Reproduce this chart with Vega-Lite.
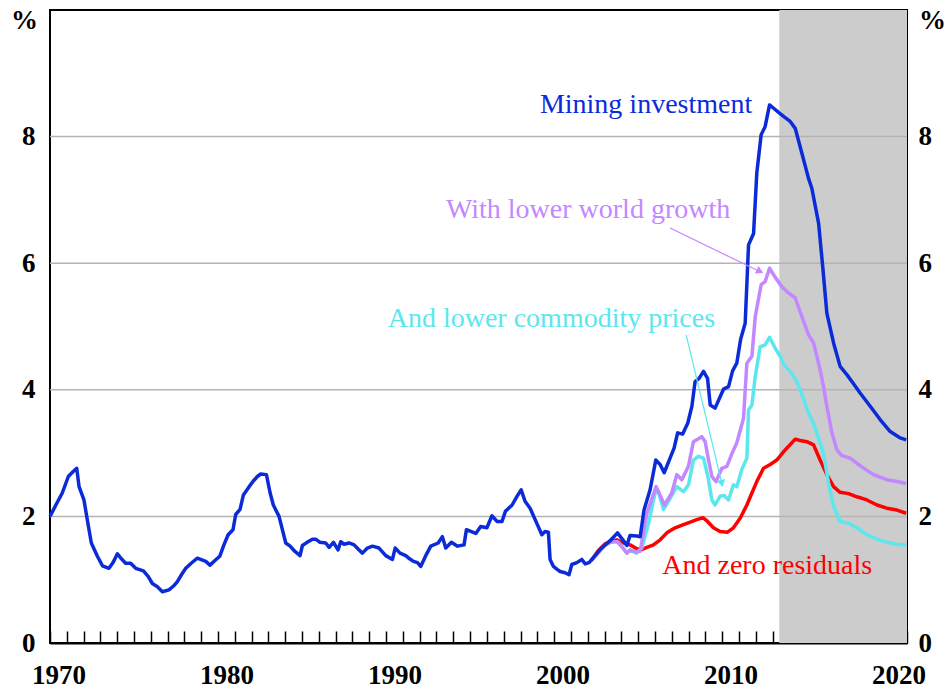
{
  "$schema": "https://vega.github.io/schema/vega-lite/v6.json",
  "width": 857,
  "height": 633,
  "autosize": {"type": "none"},
  "padding": {"left": 50, "top": 10, "right": 42, "bottom": 46},
  "background": "white",
  "config": {
    "view": {"stroke": "black", "strokeWidth": 2},
    "font": "'Liberation Serif', 'DejaVu Serif', serif",
    "axis": {"labelFont": "'Liberation Serif', 'DejaVu Serif', serif", "titleFont": "'Liberation Serif', 'DejaVu Serif', serif", "labelColor": "black", "titleColor": "black", "labelFontSize": 27, "titleFontSize": 27, "labelFontWeight": "bold", "titleFontWeight": "bold"},
    "axisX": {"tickCount": 51,
      "format": "d", "labelExpr": "datum.value % 10 === 0 && datum.value < 2021 ? datum.label : ''",
      "labelOffset": 8.4, "tickSize": -12, "tickColor": "black", "tickWidth": 1.5,
      "domain": true, "domainColor": "black", "domainWidth": 2,
      "labelPadding": 31, "labelFlush": false, "labelOverlap": false, "labelBound": false,
      "grid": false, "title": null}
  },
  "datasets": {
    "blue": [
      {"year":1970.0,"v":2.0},{"year":1970.35,"v":2.18},{"year":1970.73,"v":2.37},{"year":1971.09,"v":2.63},{"year":1971.35,"v":2.7},{"year":1971.59,"v":2.76},{"year":1971.73,"v":2.47},{"year":1972.02,"v":2.26},{"year":1972.25,"v":1.9},{"year":1972.46,"v":1.58},{"year":1972.65,"v":1.47},{"year":1972.82,"v":1.37},{"year":1973.12,"v":1.22},{"year":1973.51,"v":1.18},{"year":1973.75,"v":1.27},{"year":1974.01,"v":1.41},{"year":1974.25,"v":1.33},{"year":1974.5,"v":1.26},{"year":1974.8,"v":1.26},{"year":1975.1,"v":1.18},{"year":1975.56,"v":1.14},{"year":1975.85,"v":1.05},{"year":1976.09,"v":0.94},{"year":1976.39,"v":0.89},{"year":1976.69,"v":0.81},{"year":1977.08,"v":0.84},{"year":1977.35,"v":0.9},{"year":1977.58,"v":0.97},{"year":1977.85,"v":1.09},{"year":1978.08,"v":1.18},{"year":1978.4,"v":1.26},{"year":1978.77,"v":1.34},{"year":1979.27,"v":1.29},{"year":1979.52,"v":1.23},{"year":1979.8,"v":1.3},{"year":1980.1,"v":1.37},{"year":1980.35,"v":1.55},{"year":1980.6,"v":1.71},{"year":1980.89,"v":1.79},{"year":1981.05,"v":2.03},{"year":1981.31,"v":2.11},{"year":1981.51,"v":2.34},{"year":1981.85,"v":2.47},{"year":1982.1,"v":2.56},{"year":1982.34,"v":2.63},{"year":1982.54,"v":2.67},{"year":1982.88,"v":2.66},{"year":1983.1,"v":2.37},{"year":1983.29,"v":2.18},{"year":1983.63,"v":2.0},{"year":1984.03,"v":1.58},{"year":1984.29,"v":1.53},{"year":1984.56,"v":1.45},{"year":1984.88,"v":1.38},{"year":1985.02,"v":1.54},{"year":1985.3,"v":1.59},{"year":1985.62,"v":1.64},{"year":1985.81,"v":1.64},{"year":1986.07,"v":1.59},{"year":1986.41,"v":1.58},{"year":1986.61,"v":1.51},{"year":1986.87,"v":1.59},{"year":1987.14,"v":1.47},{"year":1987.3,"v":1.6},{"year":1987.5,"v":1.56},{"year":1987.8,"v":1.58},{"year":1988.1,"v":1.55},{"year":1988.35,"v":1.48},{"year":1988.59,"v":1.42},{"year":1988.89,"v":1.5},{"year":1989.19,"v":1.53},{"year":1989.58,"v":1.5},{"year":1989.98,"v":1.38},{"year":1990.38,"v":1.32},{"year":1990.54,"v":1.5},{"year":1990.83,"v":1.42},{"year":1991.17,"v":1.38},{"year":1991.4,"v":1.33},{"year":1991.63,"v":1.29},{"year":1991.87,"v":1.27},{"year":1992.06,"v":1.21},{"year":1992.36,"v":1.38},{"year":1992.66,"v":1.53},{"year":1993.1,"v":1.58},{"year":1993.35,"v":1.68},{"year":1993.55,"v":1.5},{"year":1993.89,"v":1.59},{"year":1994.25,"v":1.53},{"year":1994.64,"v":1.55},{"year":1994.78,"v":1.79},{"year":1995.34,"v":1.73},{"year":1995.63,"v":1.84},{"year":1996.0,"v":1.82},{"year":1996.3,"v":2.01},{"year":1996.6,"v":1.92},{"year":1996.9,"v":1.92},{"year":1997.1,"v":2.08},{"year":1997.5,"v":2.18},{"year":1997.8,"v":2.32},{"year":1998.04,"v":2.42},{"year":1998.27,"v":2.24},{"year":1998.57,"v":2.13},{"year":1998.97,"v":1.89},{"year":1999.27,"v":1.71},{"year":1999.46,"v":1.76},{"year":1999.66,"v":1.75},{"year":1999.76,"v":1.32},{"year":1999.96,"v":1.21},{"year":2000.2,"v":1.16},{"year":2000.36,"v":1.13},{"year":2000.65,"v":1.11},{"year":2000.89,"v":1.08},{"year":2001.05,"v":1.24},{"year":2001.35,"v":1.27},{"year":2001.65,"v":1.32},{"year":2001.85,"v":1.25},{"year":2002.08,"v":1.27},{"year":2002.44,"v":1.38},{"year":2002.74,"v":1.48},{"year":2003.04,"v":1.55},{"year":2003.35,"v":1.62},{"year":2003.77,"v":1.74},{"year":2004.09,"v":1.63},{"year":2004.33,"v":1.54},{"year":2004.52,"v":1.7},{"year":2004.92,"v":1.69},{"year":2005.12,"v":1.68},{"year":2005.35,"v":2.1},{"year":2005.71,"v":2.42},{"year":2006.05,"v":2.89},{"year":2006.31,"v":2.82},{"year":2006.55,"v":2.69},{"year":2006.9,"v":2.92},{"year":2007.14,"v":3.08},{"year":2007.35,"v":3.32},{"year":2007.65,"v":3.3},{"year":2007.95,"v":3.47},{"year":2008.2,"v":3.74},{"year":2008.39,"v":4.13},{"year":2008.63,"v":4.18},{"year":2008.89,"v":4.29},{"year":2009.13,"v":4.18},{"year":2009.29,"v":3.76},{"year":2009.58,"v":3.71},{"year":2009.88,"v":3.89},{"year":2010.08,"v":4.01},{"year":2010.38,"v":4.05},{"year":2010.62,"v":4.3},{"year":2010.87,"v":4.42},{"year":2011.1,"v":4.8},{"year":2011.37,"v":5.05},{"year":2011.57,"v":6.29},{"year":2011.87,"v":6.47},{"year":2012.06,"v":7.42},{"year":2012.32,"v":8.03},{"year":2012.56,"v":8.16},{"year":2012.82,"v":8.5},{"year":2013.1,"v":8.44},{"year":2013.41,"v":8.37},{"year":2013.75,"v":8.3},{"year":2014.05,"v":8.24},{"year":2014.35,"v":8.13},{"year":2014.74,"v":7.74},{"year":2015.14,"v":7.34},{"year":2015.34,"v":7.18},{"year":2015.74,"v":6.63},{"year":2016.0,"v":5.9},{"year":2016.23,"v":5.21},{"year":2016.63,"v":4.74},{"year":2017.02,"v":4.37},{"year":2017.42,"v":4.24},{"year":2017.72,"v":4.13},{"year":2018.21,"v":3.95},{"year":2018.81,"v":3.74},{"year":2019.4,"v":3.53},{"year":2020.0,"v":3.34},{"year":2020.6,"v":3.24},{"year":2020.95,"v":3.21}
    ],
    "purple": [
      {"year":2002.2,"v":1.3},{"year":2002.74,"v":1.46},{"year":2003.04,"v":1.55},{"year":2003.43,"v":1.6},{"year":2003.77,"v":1.6},{"year":2004.1,"v":1.5},{"year":2004.33,"v":1.42},{"year":2004.52,"v":1.47},{"year":2004.9,"v":1.44},{"year":2005.12,"v":1.45},{"year":2005.52,"v":2.05},{"year":2006.07,"v":2.47},{"year":2006.57,"v":2.18},{"year":2007.0,"v":2.37},{"year":2007.3,"v":2.66},{"year":2007.6,"v":2.58},{"year":2007.99,"v":2.79},{"year":2008.29,"v":3.18},{"year":2008.79,"v":3.26},{"year":2008.99,"v":3.18},{"year":2009.19,"v":2.89},{"year":2009.39,"v":2.63},{"year":2009.64,"v":2.55},{"year":2009.98,"v":2.76},{"year":2010.28,"v":2.79},{"year":2010.64,"v":3.03},{"year":2010.87,"v":3.16},{"year":2011.27,"v":3.55},{"year":2011.47,"v":4.42},{"year":2011.77,"v":4.53},{"year":2011.97,"v":5.16},{"year":2012.32,"v":5.66},{"year":2012.56,"v":5.71},{"year":2012.82,"v":5.92},{"year":2013.15,"v":5.78},{"year":2013.55,"v":5.63},{"year":2013.95,"v":5.53},{"year":2014.35,"v":5.45},{"year":2014.74,"v":5.16},{"year":2015.14,"v":4.87},{"year":2015.44,"v":4.74},{"year":2015.83,"v":4.32},{"year":2016.03,"v":4.05},{"year":2016.23,"v":3.74},{"year":2016.53,"v":3.32},{"year":2016.83,"v":3.05},{"year":2017.12,"v":2.96},{"year":2017.62,"v":2.92},{"year":2018.21,"v":2.8},{"year":2019.0,"v":2.66},{"year":2019.8,"v":2.58},{"year":2020.4,"v":2.55},{"year":2020.95,"v":2.52}
    ],
    "cyan": [
      {"year":2002.2,"v":1.3},{"year":2002.74,"v":1.46},{"year":2003.04,"v":1.55},{"year":2003.43,"v":1.6},{"year":2003.77,"v":1.6},{"year":2004.1,"v":1.5},{"year":2004.33,"v":1.42},{"year":2004.52,"v":1.47},{"year":2004.9,"v":1.42},{"year":2005.22,"v":1.5},{"year":2005.62,"v":1.89},{"year":2006.01,"v":2.37},{"year":2006.21,"v":2.39},{"year":2006.51,"v":2.11},{"year":2006.81,"v":2.24},{"year":2007.3,"v":2.47},{"year":2007.7,"v":2.39},{"year":2008.0,"v":2.5},{"year":2008.29,"v":2.89},{"year":2008.59,"v":2.95},{"year":2008.89,"v":2.92},{"year":2009.15,"v":2.63},{"year":2009.39,"v":2.26},{"year":2009.58,"v":2.18},{"year":2009.88,"v":2.32},{"year":2010.12,"v":2.33},{"year":2010.38,"v":2.26},{"year":2010.67,"v":2.5},{"year":2010.87,"v":2.47},{"year":2011.17,"v":2.74},{"year":2011.47,"v":2.92},{"year":2011.57,"v":3.68},{"year":2011.77,"v":3.76},{"year":2011.97,"v":4.21},{"year":2012.26,"v":4.68},{"year":2012.56,"v":4.71},{"year":2012.82,"v":4.83},{"year":2013.15,"v":4.66},{"year":2013.45,"v":4.53},{"year":2013.69,"v":4.39},{"year":2014.15,"v":4.26},{"year":2014.45,"v":4.13},{"year":2014.8,"v":3.89},{"year":2015.14,"v":3.63},{"year":2015.44,"v":3.47},{"year":2015.83,"v":3.16},{"year":2016.03,"v":3.0},{"year":2016.33,"v":2.53},{"year":2016.63,"v":2.16},{"year":2017.02,"v":1.92},{"year":2017.52,"v":1.89},{"year":2018.02,"v":1.82},{"year":2018.61,"v":1.71},{"year":2019.21,"v":1.64},{"year":2019.8,"v":1.59},{"year":2020.4,"v":1.56},{"year":2020.95,"v":1.55}
    ],
    "red": [
      {"year":2002.2,"v":1.3},{"year":2002.6,"v":1.45},{"year":2003.04,"v":1.57},{"year":2003.4,"v":1.6},{"year":2003.73,"v":1.63},{"year":2004.13,"v":1.58},{"year":2004.52,"v":1.55},{"year":2004.85,"v":1.5},{"year":2005.16,"v":1.47},{"year":2005.52,"v":1.51},{"year":2005.91,"v":1.55},{"year":2006.31,"v":1.63},{"year":2006.71,"v":1.74},{"year":2007.2,"v":1.82},{"year":2007.7,"v":1.87},{"year":2008.1,"v":1.91},{"year":2008.49,"v":1.95},{"year":2008.85,"v":1.98},{"year":2009.13,"v":1.92},{"year":2009.48,"v":1.82},{"year":2009.88,"v":1.76},{"year":2010.32,"v":1.75},{"year":2010.67,"v":1.82},{"year":2011.07,"v":1.97},{"year":2011.47,"v":2.18},{"year":2011.77,"v":2.37},{"year":2012.06,"v":2.55},{"year":2012.46,"v":2.76},{"year":2012.86,"v":2.82},{"year":2013.25,"v":2.89},{"year":2013.75,"v":3.05},{"year":2014.35,"v":3.22},{"year":2014.64,"v":3.2},{"year":2015.04,"v":3.18},{"year":2015.44,"v":3.13},{"year":2015.83,"v":2.89},{"year":2016.23,"v":2.66},{"year":2016.63,"v":2.47},{"year":2017.02,"v":2.38},{"year":2017.52,"v":2.36},{"year":2018.02,"v":2.31},{"year":2018.61,"v":2.26},{"year":2019.21,"v":2.18},{"year":2019.8,"v":2.13},{"year":2020.4,"v":2.1},{"year":2020.95,"v":2.05}
    ],
    "grid": [{"g":2},{"g":4},{"g":6},{"g":8}]
  },
  "resolve": {"scale": {"y": "shared"}, "axis": {"y": "independent"}},
  "layer": [
    {
      "data": {"values": [{}]},
      "mark": {"type": "rect", "fill": "#cccccc"},
      "encoding": {
        "x": {"datum": 2013.4, "type": "quantitative", "scale": {"domain": [1970, 2021], "nice": false, "zero": false}},
        "x2": {"datum": 2021},
        "y": {"datum": 0, "type": "quantitative", "scale": {"domain": [0, 10], "nice": false}, "axis": null},
        "y2": {"datum": 10}
      }
    },
    {
      "data": {"name": "grid"},
      "mark": {"type": "rule", "stroke": "#b4b4b4", "strokeWidth": 1.5},
      "encoding": {
        "y": {"field": "g", "type": "quantitative", "scale": {"domain": [0, 10], "nice": false},
          "axis": {"orient": "left", "values": [0,2,4,6,8], "ticks": false, "domain": false, "grid": false,
            "labelPadding": 15, "labelBaseline": "middle", "labelFlush": false,
            "title": "%", "titleAngle": 0, "titleX": -26, "titleY": 10, "titleAlign": "center", "titleBaseline": "middle"}}
      }
    },
    {
      "data": {"name": "red"},
      "mark": {"type": "line", "stroke": "#ff0000", "strokeWidth": 3.5, "strokeJoin": "round"},
      "encoding": {
        "x": {"field": "year", "type": "quantitative"},
        "y": {"field": "v", "type": "quantitative", "axis": null}
      }
    },
    {
      "data": {"name": "cyan"},
      "mark": {"type": "line", "stroke": "#5ce6ee", "strokeWidth": 3.5, "strokeJoin": "round"},
      "encoding": {
        "x": {"field": "year", "type": "quantitative"},
        "y": {"field": "v", "type": "quantitative", "axis": null}
      }
    },
    {
      "data": {"name": "purple"},
      "mark": {"type": "line", "stroke": "#c387ff", "strokeWidth": 3.5, "strokeJoin": "round"},
      "encoding": {
        "x": {"field": "year", "type": "quantitative"},
        "y": {"field": "v", "type": "quantitative", "axis": null}
      }
    },
    {
      "data": {"name": "blue"},
      "mark": {"type": "line", "stroke": "#0b2bd9", "strokeWidth": 3.5, "strokeJoin": "round"},
      "encoding": {
        "x": {"field": "year", "type": "quantitative"},
        "y": {"field": "v", "type": "quantitative",
          "axis": {"orient": "right", "values": [0,2,4,6,8], "ticks": false, "domain": false, "grid": false,
            "labelPadding": 11, "labelBaseline": "middle", "labelFlush": false,
            "title": "%", "titleAngle": 0, "titleX": 25, "titleY": 10, "titleAlign": "center", "titleBaseline": "middle"}}
      }
    },
    {
      "data": {"values": [{}]},
      "mark": {"type": "rule", "stroke": "#c387ff", "strokeWidth": 1.2},
      "encoding": {
        "x": {"datum": 2006.9, "type": "quantitative"}, "x2": {"datum": 2012.3},
        "y": {"datum": 6.556, "type": "quantitative", "axis": null}, "y2": {"datum": 5.86}
      }
    },
    {
      "data": {"values": [{}]},
      "mark": {"type": "point", "shape": "triangle-right", "filled": true, "fill": "#c387ff", "size": 70, "angle": 26.4, "opacity": 1},
      "encoding": {
        "x": {"datum": 2012.25, "type": "quantitative"},
        "y": {"datum": 5.87, "type": "quantitative", "axis": null}
      }
    },
    {
      "data": {"values": [{}]},
      "mark": {"type": "rule", "stroke": "#5ce6ee", "strokeWidth": 1.2},
      "encoding": {
        "x": {"datum": 2007.86, "type": "quantitative"}, "x2": {"datum": 2010.0},
        "y": {"datum": 4.866, "type": "quantitative", "axis": null}, "y2": {"datum": 2.5}
      }
    },
    {
      "data": {"values": [{}]},
      "mark": {"type": "point", "shape": "triangle-right", "filled": true, "fill": "#5ce6ee", "size": 70, "angle": 76.5, "opacity": 1},
      "encoding": {
        "x": {"datum": 2009.98, "type": "quantitative"},
        "y": {"datum": 2.52, "type": "quantitative", "axis": null}
      }
    },
    {
      "data": {"values": [{}]},
      "mark": {"type": "text", "text": "Mining investment", "font": "'Liberation Serif', 'DejaVu Serif', serif", "fontSize": 28, "fill": "#0b2bd9", "align": "right", "baseline": "alphabetic"},
      "encoding": {
        "x": {"datum": 2011.79, "type": "quantitative"},
        "y": {"datum": 8.373, "type": "quantitative", "axis": null}
      }
    },
    {
      "data": {"values": [{}]},
      "mark": {"type": "text", "text": "With lower world growth", "font": "'Liberation Serif', 'DejaVu Serif', serif", "fontSize": 28, "fill": "#c387ff", "align": "right", "baseline": "alphabetic"},
      "encoding": {
        "x": {"datum": 2010.48, "type": "quantitative"},
        "y": {"datum": 6.714, "type": "quantitative", "axis": null}
      }
    },
    {
      "data": {"values": [{}]},
      "mark": {"type": "text", "text": "And lower commodity prices", "font": "'Liberation Serif', 'DejaVu Serif', serif", "fontSize": 28, "fill": "#5ce6ee", "align": "right", "baseline": "alphabetic"},
      "encoding": {
        "x": {"datum": 2009.58, "type": "quantitative"},
        "y": {"datum": 4.992, "type": "quantitative", "axis": null}
      }
    },
    {
      "data": {"values": [{}]},
      "mark": {"type": "text", "text": "And zero residuals", "font": "'Liberation Serif', 'DejaVu Serif', serif", "fontSize": 28, "fill": "#ff0000", "align": "right", "baseline": "alphabetic"},
      "encoding": {
        "x": {"datum": 2018.93, "type": "quantitative"},
        "y": {"datum": 1.09, "type": "quantitative", "axis": null}
      }
    }
  ]
}
